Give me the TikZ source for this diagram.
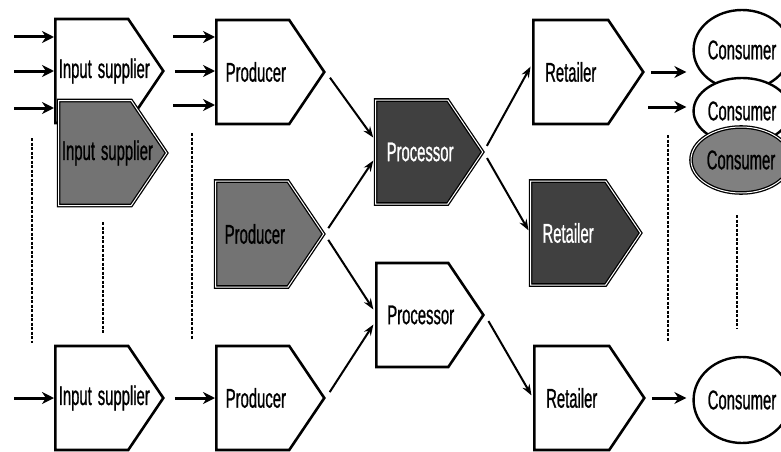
\documentclass[tikz,border=0pt]{standalone}
\usepackage{fontspec}
\setmainfont{Liberation Sans}[FakeStretch=0.55,FakeBold=0.8]
\usepackage{tikz}
\usetikzlibrary{arrows.meta,shapes.symbols,shapes.geometric}

\begin{document}
\begin{tikzpicture}[x=1pt,y=-1pt,
  stage/.style={shape=signal,signal to=east,signal pointer angle=112,draw=black,line width=2.6pt,fill=white,
    minimum width=108pt,minimum height=104pt,inner xsep=3pt,inner ysep=1pt,text width=66pt,align=center,
    anchor=west,font=\fontsize{27}{29}\selectfont},
  stagemid/.style={stage,fill=black!55,line width=1.3pt,double=white,double distance=1pt},
  stagedark/.style={stage,fill=black!75,text=white,line width=1.3pt,double=white,double distance=1pt},
  cons/.style={ellipse,draw=black,line width=2.4pt,fill=white,minimum width=96pt,minimum height=80pt,
    inner sep=0pt,font=\fontsize{27}{29}\selectfont},
  consmid/.style={cons,fill=black!50,line width=1.3pt,double=white,double distance=1pt},
  feed/.style={-{Stealth[length=12pt,width=12pt]},line width=3pt},
  flow/.style={-{Stealth[length=11pt,width=8pt]},line width=2pt,shorten <=7pt,shorten >=3pt},
  gap/.style={dash pattern=on 3pt off 1.5pt,line width=2.5pt}]
\useasboundingbox (0,0) rectangle (781,452);
\clip (0,0) rectangle (781,452);
\node[stage] (supA) at (54,71) {\mbox{Input \hspace{-3pt}supplier}};
\coordinate (inA) at (14,37);
\coordinate (inB) at (14,71);
\coordinate (inC) at (14,108);
\draw[feed] (inA) -- (inA -| supA.west);
\draw[feed] (inB) -- (inB -| supA.west);
\draw[feed] (inC) -- (inC -| supA.west);
\node[stagemid,minimum height=105pt] (supB) at (58,153) {\mbox{Input \hspace{-3pt}supplier}};
\node[stage] (supC) at (54,398) {\mbox{Input \hspace{-3pt}supplier}};
\node[stage] (prodA) at (215,72) {\mbox{\hspace{6pt}Producer}};
\node[stagemid,minimum height=106pt] (prodB) at (215,234) {\mbox{\hspace{6pt}Producer}};
\node[stage] (prodC) at (215,398) {\mbox{\hspace{6pt}Producer}};
\node[stagedark,minimum width=104pt] (procA) at (375,152) {\mbox{\hspace{8pt}Processor}};
\node[stage,minimum width=104pt] (procB) at (375,315) {\mbox{\hspace{8pt}Processor}};
\node[stage,minimum width=110pt] (retA) at (532,72) {Retailer};
\node[stagedark,minimum width=110pt] (retB) at (530,233) {Retailer};
\node[stage,minimum width=110pt] (retC) at (533,398) {Retailer};
\node[cons] (conA) at (742,50) {Consumer};
\node[cons,minimum height=66pt] (conB) at (742,111) {Consumer};
\node[consmid,minimum width=100pt,minimum height=66pt] (conC) at (741,160) {Consumer};
\node[cons,minimum height=86pt] (conD) at (742,400) {Consumer};
\coordinate (pinA) at (173,37);
\coordinate (pinC) at (173,105);
\draw[feed] (pinA) -- (pinA -| prodA.west);
\draw[feed,shorten <=10pt] (supA.east) -- (supA.east -| prodA.west);
\draw[feed] (pinC) -- (pinC -| prodA.west);
\coordinate (inD) at (14,398);
\draw[feed] (inD) -- (inD -| supC.west);
\draw[feed,shorten <=10pt] (supC.east) -- (supC.east -| prodC.west);
\draw[flow] (prodA.east) -- ([yshift=12pt]procA.west);
\draw[flow] (prodB.east) -- ([yshift=-6pt]procA.west);
\draw[flow] (prodB.east) -- ([yshift=3pt]procB.west);
\draw[flow] (prodC.east) -- ([yshift=-7pt]procB.west);
\draw[flow] (procA.east) -- ([yshift=8pt]retA.west);
\draw[flow] (procA.east) -- (retB.west);
\draw[flow] (procB.east) -- (retC.west);
\draw[feed,shorten <=6pt,shorten >=6pt] (retA.east) -- (retA.east -| conA.west);
\coordinate (cinB) at (648,107);
\draw[feed,shorten >=6pt] (cinB) -- (cinB -| conB.west);
\draw[feed,shorten <=6pt,shorten >=6pt] (retC.east) -- (retC.east -| conD.west);
\draw[gap] (32,138) -- (32,343);
\draw[gap] (103,222) -- (103,333);
\draw[gap] (192,133) -- (192,340);
\draw[gap] (668,135) -- (668,342);
\draw[gap] (737,215) -- (737,328);
\end{tikzpicture}
\end{document}
